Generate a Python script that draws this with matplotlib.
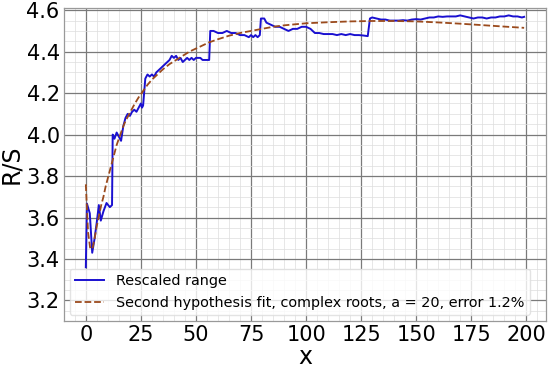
import numpy as np
import matplotlib
matplotlib.use("Agg")
import matplotlib.pyplot as plt
from matplotlib.ticker import MultipleLocator

rs_x = [0, 0.5, 1.8, 2.9, 4, 5, 5.9, 6.8, 8, 9.4, 10.9, 11.9, 12.2, 13, 14, 15, 16, 17, 18, 19,
        20, 21, 22, 23, 24, 25, 25.5, 26, 27, 28, 29, 30, 31, 32, 33, 34, 35, 36, 37, 38, 39,
        40, 41, 42, 43, 44, 45, 46, 47, 48, 49, 50, 51, 52, 53, 54, 55, 56, 56.5, 58, 60, 62,
        64, 66, 68, 70, 72, 74, 75, 76, 77, 78, 79, 79.5, 81, 82, 84, 86, 88, 90, 92, 94, 96,
        98, 100, 102, 104, 106, 108, 110, 112, 114, 116, 118, 120, 122, 124, 126, 128, 129,
        130, 132, 134, 136, 138, 140, 142, 144, 146, 148, 150, 152, 154, 156, 158, 160, 162,
        164, 166, 168, 170, 172, 174, 176, 178, 180, 182, 184, 186, 188, 190, 192, 194, 196,
        198, 199]
rs_y = [3.36, 3.667, 3.62, 3.43, 3.50, 3.58, 3.66, 3.585, 3.63, 3.67, 3.65, 3.66, 4.00, 3.98,
        4.01, 3.99, 3.97, 4.04, 4.08, 4.10, 4.09, 4.11, 4.12, 4.11, 4.13, 4.15, 4.13, 4.14,
        4.27, 4.29, 4.28, 4.29, 4.28, 4.30, 4.31, 4.32, 4.33, 4.34, 4.35, 4.36, 4.38, 4.37,
        4.38, 4.36, 4.37, 4.35, 4.36, 4.37, 4.36, 4.37, 4.36, 4.37, 4.37, 4.37, 4.36, 4.36,
        4.36, 4.36, 4.50, 4.50, 4.49, 4.49, 4.50, 4.49, 4.49, 4.48, 4.48, 4.47, 4.48, 4.47,
        4.48, 4.47, 4.48, 4.56, 4.56, 4.54, 4.53, 4.52, 4.52, 4.51, 4.50, 4.51, 4.51, 4.52,
        4.52, 4.51, 4.49, 4.49, 4.485, 4.485, 4.485, 4.48, 4.485, 4.48, 4.485, 4.48, 4.48,
        4.478, 4.475, 4.56, 4.565, 4.56, 4.555, 4.555, 4.55, 4.55, 4.55, 4.552, 4.55, 4.555,
        4.557, 4.555, 4.56, 4.565, 4.565, 4.57, 4.568, 4.57, 4.57, 4.57, 4.575, 4.57, 4.565,
        4.56, 4.565, 4.565, 4.56, 4.565, 4.565, 4.57, 4.57, 4.575, 4.57, 4.57, 4.565, 4.568]

fit_x = [0, 1, 2, 3, 4, 5, 6, 7, 8, 9, 10, 11, 12, 13, 14, 15, 16, 17, 18, 19, 20, 22, 24, 26,
         28, 30, 32, 35, 38, 41, 44, 47, 50, 53, 56, 60, 65, 70, 75, 80, 85, 90, 95, 100, 110,
         120, 130, 140, 150, 160, 170, 180, 190, 199]
fit_y = [3.76, 3.53, 3.45, 3.45, 3.50, 3.56, 3.61, 3.66, 3.70, 3.75, 3.79, 3.83, 3.87, 3.91,
         3.95, 3.98, 4.01, 4.04, 4.065, 4.085, 4.105, 4.145, 4.18, 4.21, 4.24, 4.265, 4.285,
         4.315, 4.34, 4.36, 4.38, 4.40, 4.415, 4.43, 4.445, 4.46, 4.477, 4.49, 4.50, 4.51,
         4.52, 4.527, 4.532, 4.537, 4.542, 4.546, 4.548, 4.548, 4.546, 4.541, 4.535, 4.528,
         4.521, 4.515]

x_ticks = [0, 25, 50, 75, 100, 125, 150, 175, 200]
y_ticks = [3.2, 3.4, 3.6, 3.8, 4.0, 4.2, 4.4, 4.6]

fig = plt.figure(figsize=(5.5, 3.7), dpi=100)
ax = fig.add_axes([0.116, 0.132, 0.877, 0.846])

ax.plot(rs_x, rs_y, color="#1a10d0", lw=1.4, label="Rescaled range", zorder=3)
ax.plot(fit_x, fit_y, color="#9b4a1c", lw=1.3, ls="--",
        label="Second hypothesis fit, complex roots, a = 20, error 1.2%", zorder=4)

ax.set_xlim(-10, 209)
ax.set_ylim(3.1, 4.61)
ax.set_xticks(x_ticks)
ax.set_yticks(y_ticks)
ax.set_yticklabels([f"{v:.1f}" for v in y_ticks])
ax.xaxis.set_minor_locator(MultipleLocator(5))
ax.yaxis.set_minor_locator(MultipleLocator(0.05))
ax.grid(which="major", color="#7a7a7a", lw=0.9)
ax.grid(which="minor", color="#dddddd", lw=0.5)
ax.set_axisbelow(True)
ax.tick_params(which="both", length=0, labelsize=15, pad=3)
for s in ax.spines.values():
    s.set_color("#999999")
    s.set_linewidth(0.9)

ax.set_xlabel("x", fontsize=17, labelpad=0)
ax.set_ylabel("R/S", fontsize=17, labelpad=2)

leg = ax.legend(loc="lower left", fontsize=10.4, framealpha=0.8, edgecolor="#dddddd",
                borderaxespad=0.4)

fig.savefig("out.png", dpi=100)
